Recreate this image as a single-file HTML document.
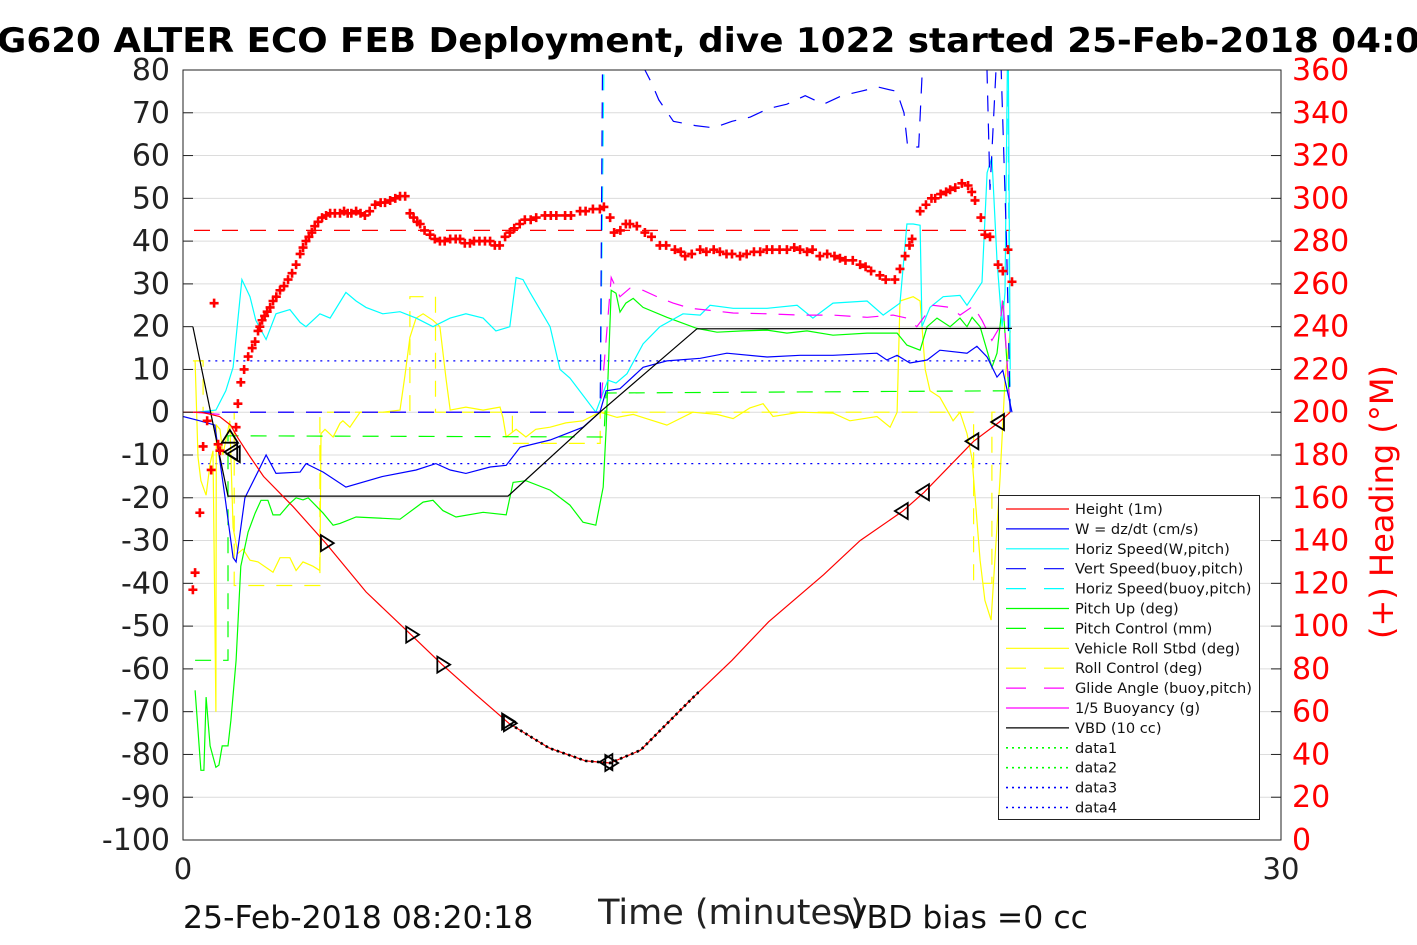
<!DOCTYPE html>
<html><head><meta charset="utf-8">
<style>
html,body{margin:0;padding:0;background:#fff;}
svg{display:block;font-family:"DejaVu Sans","Liberation Sans",sans-serif;}
</style></head>
<body>
<svg id="chart" width="1417" height="945" viewBox="0 0 1417 945" xmlns="http://www.w3.org/2000/svg">
<defs><clipPath id="plotclip"><rect x="183" y="70" width="1098" height="770"/></clipPath></defs>
<rect x="0" y="0" width="1417" height="945" fill="#fff"/>
<g id="grid"></g>
<g id="series" clip-path="url(#plotclip)"></g>
<g id="axes"></g>
<text x="-3" y="52" font-size="34" font-weight="bold" textLength="1448" lengthAdjust="spacingAndGlyphs">G620 ALTER ECO FEB Deployment, dive 1022 started 25-Feb-2018 04:06</text>
<text x="731" y="924" font-size="35" text-anchor="middle" fill="#222">Time (minutes)</text>
<text x="183" y="928" font-size="31.5" fill="#111">25-Feb-2018 08:20:18</text>
<text x="845" y="928" font-size="31.5" fill="#111">VBD bias =0 cc</text>
<text x="1393" y="502" font-size="32" fill="#f00" text-anchor="middle" transform="rotate(-90 1393 502)">(+) Heading (°M)</text>
<g>
<rect x="998.5" y="495.5" width="261" height="324" fill="#fff" stroke="#222" stroke-width="1"/>
<g id="legend-items"></g>
</g>
</svg>
<script>
// ---- data (time in minutes) ----
const leftTicks = [80,70,60,50,40,30,20,10,0,-10,-20,-30,-40,-50,-60,-70,-80,-90,-100];
const rightTicks = [360,340,320,300,280,260,240,220,200,180,160,140,120,100,80,60,40,20,0];
const xTicks = [0,30];
const heightSeries = [[0,0],[0.5,0],[1,-1],[1.3,-3],[1.5,-6],[1.8,-10],[2.2,-15],[3,-22],[3.9,-30.6],[5,-42],[6.23,-52],[7.08,-59],[8,-66],[8.9,-72.7],[10,-78.5],[11,-81.5],[11.67,-82],[12.5,-79],[13.9,-67],[15,-58],[16,-49],[17.5,-38],[18.5,-30],[19.67,-23.1],[20.25,-18.7],[21.6,-6.8],[22.3,-2.3],[22.6,0]];
const wSeries = [[0,-1],[0.46,-2],[0.87,-3],[1.15,-20],[1.37,-34],[1.45,-35],[1.69,-20],[2.1,-13],[2.27,-10],[2.54,-14.3],[3.2,-14],[3.36,-12],[3.83,-14],[4.45,-17.5],[5.46,-15],[6.37,-13.5],[6.91,-12],[7.3,-13.5],[7.73,-14.3],[8.39,-12.8],[8.83,-12.4],[9.21,-8.2],[10.03,-6.5],[10.93,-3.5],[11.39,0],[11.56,5],[11.94,5.5],[12.57,10.5],[13.22,12],[14.13,12.6],[14.86,13.8],[15.96,12.9],[16.86,13.3],[17.76,13.3],[18.96,13.8],[19.23,12.2],[19.51,13.3],[19.86,11.5],[20.33,12.2],[20.68,14.5],[21.42,13.8],[21.69,15.4],[21.97,12.9],[22.24,8.2],[22.4,9.8],[22.65,0]];
const horizW = [[0.36,0],[0.9,0.5],[1.17,5],[1.37,10.5],[1.61,31],[1.83,27],[1.99,21.5],[2.27,17],[2.54,23],[2.92,24],[3.2,21],[3.36,20],[3.74,23],[4.02,22],[4.45,28],[4.73,26],[5,24.5],[5.46,23],[5.93,23.5],[6.37,22],[6.83,20],[7.3,22],[7.73,23],[8.2,22],[8.55,19],[8.93,20],[9.1,31.5],[9.29,31],[9.48,28],[10.03,20],[10.3,10],[10.57,8],[11.28,0],[11.61,7.5],[11.83,6.8],[12.13,9],[12.57,16],[13.03,20],[13.66,23],[14.13,22.7],[14.4,25],[15.03,24.3],[15.96,24.3],[16.78,25],[17.21,22],[17.76,25.5],[18.69,26],[19.13,22.7],[19.59,25.5],[19.78,44],[19.95,44],[20.14,43.7],[20.19,20],[20.41,24.5],[20.77,27],[21.23,27.3],[21.42,25],[21.83,30.4],[21.97,56],[22.1,59.6],[22.24,35.5],[22.38,20],[22.46,28],[22.54,95],[22.6,10]];
const vertBuoy = [[0.3,0],[11.4,0],[11.5,130],[12.2,95],[12.5,82],[12.8,77],[13.0,73],[13.4,68],[14,67],[14.5,66.5],[15,68],[15.5,69],[16,71],[16.5,72],[17,74],[17.5,72],[18,74],[18.5,75],[19.0,76],[19.5,75],[19.7,70],[19.8,62],[20.1,62],[20.2,80],[20.3,120],[21.85,120],[22.05,52],[22.3,95],[22.5,40],[22.6,0]];
const horizBuoy = [[0.3,0],[11.4,0],[11.55,120],[22.5,120],[22.6,0]];
const pitchUp = [[0.33,-65],[0.49,-83.7],[0.57,-83.7],[0.63,-66.6],[0.74,-78],[0.9,-83],[0.98,-82.5],[1.07,-78],[1.23,-78],[1.31,-72],[1.45,-58],[1.58,-36],[1.78,-28],[1.97,-23.6],[2.13,-20.6],[2.32,-20.6],[2.46,-24],[2.65,-24],[2.92,-21.3],[3.09,-20],[3.28,-20.5],[3.42,-20],[3.83,-23.6],[4.1,-26.4],[4.29,-26],[4.73,-24.5],[5.46,-24.8],[5.93,-25],[6.56,-21],[6.83,-20.6],[7.1,-23],[7.46,-24.5],[8.2,-23.4],[8.83,-24],[9.02,-16.4],[9.37,-16],[10.03,-18.2],[10.57,-21.7],[10.93,-25.7],[11.28,-26.4],[11.48,-17.5],[11.56,-4],[11.7,28.5],[11.83,27.8],[11.94,23.4],[12.1,25.5],[12.3,26.6],[12.57,24.5],[13.22,22.2],[14.04,19.6],[14.59,18.7],[15.3,19],[15.96,19.2],[16.5,18.5],[17.05,19],[17.76,18],[18.69,18.5],[19.51,18.5],[19.78,15.7],[20.14,14.5],[20.33,20],[20.6,22],[20.96,20],[21.23,22],[21.42,20],[21.56,22.2],[21.78,20],[22.1,10.5],[22.24,13.8],[22.4,26],[22.6,0.5]];
const pitchCtl = [[0.33,-58],[1.23,-58],[1.23,-5.5],[11.5,-5.8],[11.56,4.5],[22.6,5]];
const rollVeh = [[0.33,12],[0.41,-10.5],[0.49,-16],[0.63,-19.4],[0.74,-12],[0.82,-9],[0.9,-70],[0.91,-3],[1.01,-4],[1.09,-10],[1.28,-2],[1.37,-27],[1.5,-33],[1.64,-32],[1.83,-34.6],[2.05,-35],[2.46,-37.4],[2.65,-34],[2.92,-34],[3.09,-37],[3.28,-35],[3.55,-36],[3.74,-37],[3.77,-5],[3.88,-4],[4.1,-5.8],[4.29,-2.6],[4.37,-2],[4.56,-3.5],[4.84,0],[5.46,0],[5.93,0.5],[6.07,9],[6.2,17.5],[6.37,22],[6.56,23],[6.83,21.5],[7.02,20],[7.19,7.5],[7.3,0.5],[7.73,1.2],[8.2,0.5],[8.66,1.2],[8.74,-1.2],[8.83,-5.8],[9.1,-4],[9.37,-5.8],[9.64,-4],[10.03,-3.5],[10.46,-2.5],[10.93,-2],[11.39,0],[11.86,-1.2],[12.3,-0.5],[13.22,-3],[13.93,0],[14.59,-0.5],[15.03,-1.5],[15.49,1],[15.85,2],[16.12,-1],[16.86,0],[17.76,-0.2],[18.22,-2],[18.96,-1],[19.32,-3.5],[19.51,0],[19.59,26],[19.95,27],[20.14,26],[20.28,10],[20.41,5],[20.68,3.5],[21.04,-2],[21.23,0],[21.42,-5],[21.56,-11],[21.78,-34.6],[21.91,-44],[22.08,-48.6],[22.32,-16],[22.46,7.5],[22.6,19]];
const rollCtl = [[0.27,12],[0.55,12],[0.55,0],[1.4,0],[1.4,-40.5],[3.74,-40.5],[3.74,0],[6.2,0],[6.2,27],[6.9,27],[6.9,0],[9.0,0],[9.0,-7.3],[11.4,-7.3],[11.4,0],[19.6,0],[19.6,0],[21.6,0],[21.6,-40],[22.1,-40],[22.1,0],[22.6,0]];
const glideAngle = [[0.3,0],[11.4,0],[11.7,31.5],[11.94,27],[12.21,29],[12.57,28.5],[12.95,27],[13.39,25.5],[13.86,24.3],[14.4,23.8],[15.03,23.2],[15.96,23],[16.86,22.7],[17.76,22.7],[18.69,22.2],[19.4,22.7],[19.78,22],[20.05,20],[20.49,25],[20.96,24.5],[21.23,22.7],[21.59,24.8],[21.83,21.5],[22.1,16.8],[22.32,20],[22.4,27],[22.6,0.5]];
const buoyancy = [[0.27,0],[1.0,-0.5]];
const vbdSeries = [[0.27,20],[1.23,-19.6],[8.88,-19.6],[11.39,0],[14.04,19.5],[22.65,19.6]];
const data1 = [[0.5,12],[22.65,12]];
const data2 = [[0.5,-12],[22.65,-12]];
const headingMean = [[0.3,285],[22.6,285]];
const headingSeries = [[.27,117],[.33,125],[.46,153],[.55,184],[.66,196],[.77,173],[.85,251],[.96,185],[1.01,182],[1.45,193],[1.5,204],[1.58,214],[1.67,220],[1.78,226],[1.89,230],[1.97,233],[2.05,238],[2.1,240],[2.16,243],[2.23,245],[2.3,247],[2.38,249],[2.46,252],[2.55,254],[2.65,257],[2.76,259],[2.87,262],[2.98,265],[3.09,269],[3.2,274],[3.28,277],[3.36,280],[3.44,282],[3.52,284],[3.6,287],[3.69,289],[3.8,291],[3.91,292],[4.02,293],[4.15,293],[4.29,293],[4.4,294],[4.5,293],[4.6,293],[4.73,294],[4.85,293],[4.97,292],[5.1,294],[5.25,297],[5.4,298],[5.52,298],[5.66,299],[5.8,300],[5.93,301],[6.07,301],[6.2,293],[6.3,291],[6.4,289],[6.48,288],[6.6,285],[6.75,283],[6.88,281],[7.02,280],[7.15,280],[7.3,281],[7.45,281],[7.57,281],[7.7,279],[7.84,279],[7.95,280],[8.1,280],[8.25,280],[8.39,280],[8.52,278],[8.65,278],[8.8,282],[8.93,284],[9.05,286],[9.2,288],[9.34,290],[9.5,290],[9.65,291],[9.89,292],[10.05,292],[10.2,292],[10.44,292],[10.6,292],[10.85,294],[11.0,294],[11.2,295],[11.39,295],[11.5,296],[11.67,291],[11.78,284],[11.95,285],[12.1,288],[12.21,288],[12.4,287],[12.62,284],[12.8,282],[13.03,278],[13.2,278],[13.44,276],[13.6,275],[13.72,273],[13.9,274],[14.13,276],[14.3,275],[14.5,276],[14.67,275],[14.85,274],[15.0,274],[15.22,273],[15.4,274],[15.6,275],[15.77,275],[15.95,276],[16.1,276],[16.3,276],[16.5,276],[16.7,277],[16.86,276],[17.05,275],[17.2,276],[17.4,273],[17.6,274],[17.8,273],[17.95,272],[18.1,271],[18.3,271],[18.5,269],[18.65,268],[18.8,266],[19.04,264],[19.2,262],[19.45,262],[19.59,267],[19.73,273],[19.85,278],[19.92,281],[20.14,294],[20.3,297],[20.45,300],[20.55,300],[20.7,302],[20.85,303],[20.96,304],[21.1,305],[21.28,307],[21.45,306],[21.55,303],[21.64,299],[21.8,291],[21.91,283],[22.05,282],[22.27,269],[22.4,266],[22.54,276],[22.65,261]];
const triRight = [[3.9,-30.6],[6.23,-52],[7.08,-59],[8.9,-72.7],[8.85,-72.3],[11.67,-82]];
const triLeft = [[1.35,-9.3],[1.42,-9.8],[11.6,-81.8],[19.67,-23.1],[20.25,-18.7],[21.6,-6.8],[22.3,-2.3]];
const triUp = [[1.28,-6]];
const dotStart = 8.9, dotEnd = 14.1;

// ---- scales ----
const X0=183, X1=1281, Y0=70, Y1=840;
function X(t){ return X0 + (t-0)/(30-0)*(X1-X0); }
function Y(v){ return Y1 - (v-(-100))/(80-(-100))*(Y1-Y0); }
function YH(h){ return Y1 - h/360*(Y1-Y0); }
const NS='http://www.w3.org/2000/svg';
function mk(tag, attrs, parent){ const e=document.createElementNS(NS,tag); for(const k in attrs) e.setAttribute(k, attrs[k]); parent.appendChild(e); return e; }
const grid=document.getElementById('grid'), axes=document.getElementById('axes'), ser=document.getElementById('series');

leftTicks.forEach(v=>{
  const gl=mk('line',{x1:X0,x2:X1,y1:Y(v),y2:Y(v),stroke:'#dcdcdc','stroke-width':1},grid);
  
  
  const tk=mk('line',{x1:X0,x2:X0+10,y1:Y(v),y2:Y(v),stroke:'#222','stroke-width':1},axes);
  
  
  const tx=mk('text',{x:170,y:Y(v)+10,'font-size':30,'text-anchor':'end',fill:'#222'},axes);
  tx.textContent=v;
  
  
});
rightTicks.forEach(h=>{
  const tk=mk('line',{x1:X1-10,x2:X1,y1:YH(h),y2:YH(h),stroke:'#222','stroke-width':1},axes);
  
  
  const tx=mk('text',{x:1292,y:YH(h)+10,'font-size':30,fill:'#f00'},axes);
  tx.textContent=h;
  
  
});
xTicks.forEach(t=>{
  const tx=mk('text',{x:X(t),y:879,'font-size':29,'text-anchor':'middle',fill:'#222'},axes);
  tx.textContent=t;
  
  
});
const frame=mk('path',{d:`M${X0} ${Y0}V${Y1}H${X1}V${Y0}Z`,fill:'none',stroke:'#222','stroke-width':1},axes);



function pts(arr, yf){ return arr.map(p=>X(p[0]).toFixed(1)+','+yf(p[1]).toFixed(1)).join(' '); }
function line(arr, color, dash, name, yf, w){
  const e=mk('polyline',{points:pts(arr,yf||Y),fill:'none',stroke:color,'stroke-width':w||1.2,'stroke-dasharray':dash||'none'},ser);
  
  
  return e;
}
line(data1,'#0000ff','2,5','data3-line');
line(data2,'#0000ff','2,5','data4-line');
line(headingMean,'#ff0000','16,12','heading-mean-line',YH);
line(rollCtl,'#ffff00','16,12','roll-control-line');
line(rollVeh,'#ffff00',null,'vehicle-roll-line');
line(pitchCtl,'#00ff00','16,12','pitch-control-line');
line(pitchUp,'#00ff00',null,'pitch-up-line');
line(horizW,'#00ffff',null,'horiz-speed-w-line');
line(horizBuoy,'#00ffff','16,12','horiz-speed-buoy-line');
line(glideAngle,'#ff00ff','16,12','glide-angle-line');
line(vertBuoy,'#0000ff','16,12','vert-speed-buoy-line');
line(buoyancy,'#ff00ff',null,'buoyancy-line');
line(wSeries,'#0000ff',null,'w-line');
line(vbdSeries,'#000000',null,'vbd-line');
line(heightSeries,'#ff0000',null,'height-line');
const dclip=mk('clipPath',{id:'dotclip'},document.querySelector('defs'));
mk('rect',{x:X(dotStart),y:Y0,width:X(dotEnd)-X(dotStart),height:Y1-Y0},dclip);
const dots=line(heightSeries,'#000','2.5,3.5','depth-dots',Y,2.6);
dots.setAttribute('clip-path','url(#dotclip)');

headingSeries.forEach(p=>{
  const x=X(p[0]), y=YH(p[1]);
  const c=mk('path',{d:`M${x-4.5} ${y}H${x+4.5}M${x} ${y-4.5}V${y+4.5}`,stroke:'#ff0000','stroke-width':2.6,fill:'none'},ser);
  
  
});
function tri(arr, dir){
  arr.forEach(p=>{
    const x=X(p[0]), y=Y(p[1]), s=8; let d;
    if(dir==='r') d=`M${x-s*0.6} ${y-s}L${x+s} ${y}L${x-s*0.6} ${y+s}Z`;
    else if(dir==='l') d=`M${x+s*0.6} ${y-s}L${x-s} ${y}L${x+s*0.6} ${y+s}Z`;
    else d=`M${x-s} ${y+s*0.6}L${x} ${y-s}L${x+s} ${y+s*0.6}Z`;
    const e=mk('path',{d:d,fill:'none',stroke:'#000','stroke-width':1.8},ser);
    
    
  });
}
tri(triRight,'r'); tri(triLeft,'l'); tri(triUp,'u');

const legend=[['Height (1m)','#ff0000',null],['W = dz/dt (cm/s)','#0000ff',null],['Horiz Speed(W,pitch)','#00ffff',null],['Vert Speed(buoy,pitch)','#0000ff','20,18'],['Horiz Speed(buoy,pitch)','#00ffff','20,18'],['Pitch Up (deg)','#00ff00',null],['Pitch Control (mm)','#00ff00','20,18'],['Vehicle Roll Stbd (deg)','#ffff00',null],['Roll Control (deg)','#ffff00','20,18'],['Glide Angle (buoy,pitch)','#ff00ff','20,18'],['1/5 Buoyancy (g)','#ff00ff',null],['VBD (10 cc)','#000000',null],['data1','#00ff00','2,4'],['data2','#00ff00','2,4'],['data3','#0000ff','2,4'],['data4','#0000ff','2,4']];
const lg=document.getElementById('legend-items');
legend.forEach((L,i)=>{
  const y=509+i*19.9;
  const g=mk('g',{},lg);
  
  
  mk('line',{x1:1006,x2:1069,y1:y,y2:y,stroke:L[1],'stroke-width':L[2]==='2,4'?1.6:1.2,'stroke-dasharray':L[2]||'none'},g);
  const t=mk('text',{x:1075,y:y+5,'font-size':14.6,fill:'#111'},g);
  t.textContent=L[0];
});
</script>
</body></html>
